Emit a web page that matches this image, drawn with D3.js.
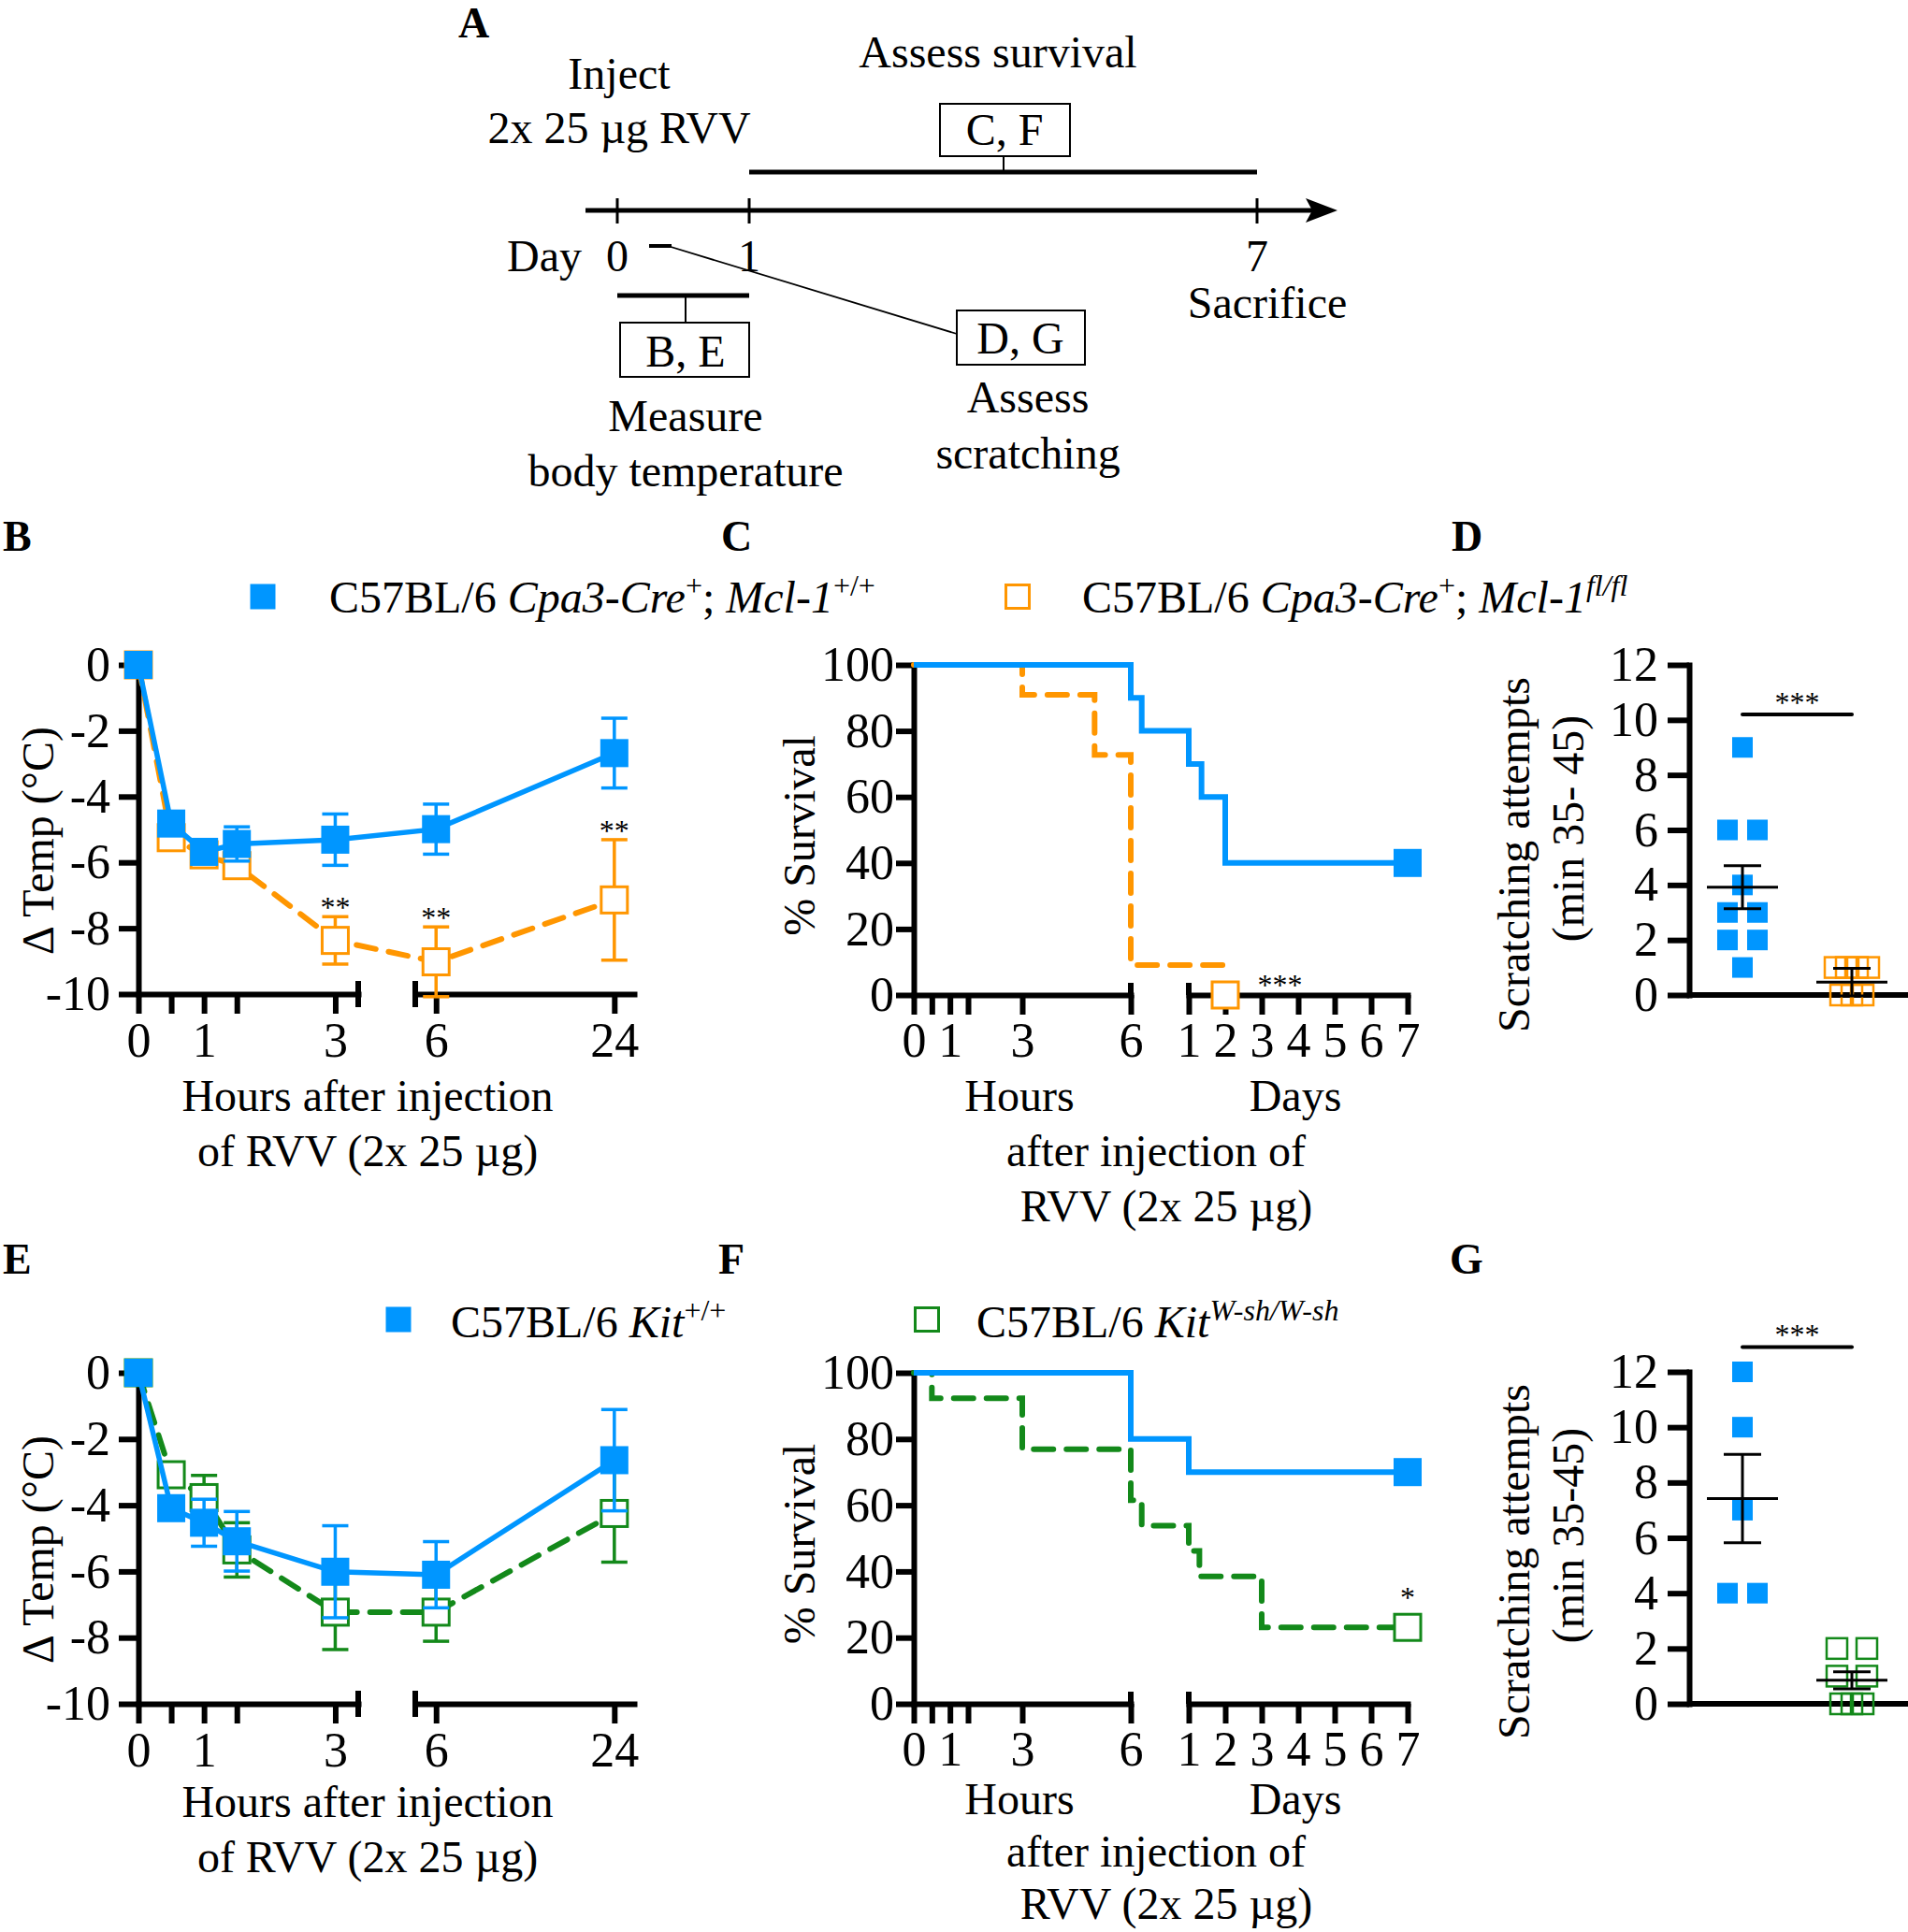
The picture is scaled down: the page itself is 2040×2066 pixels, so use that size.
<!DOCTYPE html>
<html>
<head>
<meta charset="utf-8">
<script src="https://cdnjs.cloudflare.com/ajax/libs/d3/7.8.5/d3.min.js"></script>
<style>
body { margin: 0; background: #fff; }
text { font-family: "Liberation Serif", "Times New Roman", serif; }
</style>
</head>
<body>
<svg id="fig"></svg>
<script>
// ---------- data ----------
// body temperature (B, E)
var tempHours = [0, 0.5, 1, 1.5, 3, 6, 24];
var mclWtTemp = [0, -4.82, -5.68, -5.44, -5.31, -4.99, -2.68];
var mclWtSem = [0, 0.2, 0.2, 0.52, 0.78, 0.76, 1.06];
var mclKoTemp = [0, -5.25, -5.77, -6.1, -8.37, -9.02, -7.14];
var mclKoSem = [0, 0.3, 0.3, 0.3, 0.72, 1.06, 1.83];
var mclTempStars = ["", "", "", "", "**", "**", "**"];
var kitWtTemp = [0, -4.09, -4.53, -5.09, -6.01, -6.1, -2.64];
var kitWtSem = [0, 0.3, 0.71, 0.9, 1.39, 1.0, 1.53];
var kitKoTemp = [0, -3.08, -3.77, -5.35, -7.23, -7.23, -4.25];
var kitKoSem = [0, 0.3, 0.67, 0.82, 1.13, 0.88, 1.47];
var tempTicks = [0, -2, -4, -6, -8, -10];
var hourTicksA = [0, 0.5, 1, 1.5, 3];
var hourTicksB = [6, 24];
var hourLabelled = [0, 1, 3, 6, 24];

// survival (C, F): hours after injection, % survival
var mclWtSurvT = [0, 6, 9.4, 24, 32.4, 48, 168];
var mclWtSurv = [100, 90, 80, 70, 60, 40, 40];
var mclKoSurvT = [0, 3, 5, 6, 48];
var mclKoSurv = [100, 90.9, 72.7, 9.1, 9.1];
var mclSurvEndT = [168, 48];
var mclSurvEnd = [40, 0];
var kitWtSurvT = [0, 6, 24, 168];
var kitWtSurv = [100, 80, 70, 70];
var kitKoSurvT = [0, 0.5, 3, 6, 9.4, 24, 31, 72, 168];
var kitKoSurv = [100, 92.3, 76.9, 61.5, 53.8, 46.2, 38.5, 23.1, 23.1];
var kitSurvEndT = [168, 168];
var kitSurvEnd = [70, 23.1];
var survTicks = [0, 20, 40, 60, 80, 100];
var survHourTicks = [0, 0.5, 1, 1.5, 3, 6];
var survHourLabelled = [0, 1, 3, 6];
var survDays = [1, 2, 3, 4, 5, 6, 7];

// scratching (D, G)
var mclWtScratch = [9, 6, 6, 4, 3, 3, 2, 2, 1];
var mclKoScratch = [1, 1, 1, 1, 0, 0, 0];
var mclScratchMean = [3.92, 0.47];
var mclScratchSem = [0.78, 0.5];
var kitWtScratch = [12, 10, 7, 4, 4];
var kitKoScratch = [2, 2, 1, 1, 0, 0, 0];
var kitScratchMean = [7.42, 0.85];
var kitScratchSem = [1.6, 0.31];
var scratchTicks = [0, 2, 4, 6, 8, 10, 12];

var blue = "#0096ff", orange = "#ff9600", green = "#13891a";
var tickFont = 52;

var svg = d3.select("#fig").attr("width", 2040).attr("height", 2066);

function styleAxis(g) {
	g.attr("font-family", null).attr("font-size", tickFont);
	g.select(".domain").attr("stroke-width", 6).attr("stroke-linecap", "square");
	g.selectAll(".tick line").attr("stroke-width", 6);
	g.selectAll(".tick text").attr("fill", "#000");
}

function plain(d) { return String(d); }

function txt(x, y, s, size, anchor) {
	return svg.append("text").attr("x", x).attr("y", y)
		.attr("font-size", size || 48)
		.attr("text-anchor", anchor || "middle")
		.text(s);
}

function rotText(x, y, s) {
	svg.append("text")
		.attr("transform", "translate(" + x + "," + y + ") rotate(-90)")
		.attr("text-anchor", "middle").attr("dy", "0.35em")
		.attr("font-size", 48).text(s);
}

function square(g, cx, cy, size, color, filled, fill) {
	g.append("rect")
		.attr("x", cx - size / 2).attr("y", cy - size / 2)
		.attr("width", size).attr("height", size)
		.attr("fill", filled ? color : (fill || "none"))
		.attr("stroke", filled ? "none" : color)
		.attr("stroke-width", filled ? 0 : 3);
}

// rich text with italic / superscript parts
function richText(x, y, parts) {
	var t = svg.append("text").attr("x", x).attr("y", y).attr("font-size", 48);
	var shift = 0;
	parts.forEach(function (p) {
		var want = p.sup ? -18 : 0;
		t.append("tspan")
			.attr("dy", want - shift)
			.attr("font-size", p.sup ? 32 : null)
			.attr("font-style", p.it ? "italic" : null)
			.text(p.t);
		shift = want;
	});
}

// ---------- panel letters ----------
[["A", 490, 40], ["B", 3, 589], ["C", 771, 589], ["D", 1552, 589],
 ["E", 3, 1362], ["F", 768, 1362], ["G", 1550, 1362]].forEach(function (d) {
	txt(d[1], d[2], d[0], 46, "start").attr("font-weight", "bold");
});

// ---------- A: timeline ----------
var dayX = d3.scaleLinear().domain([0, 1, 7]).range([660, 801, 1344]);
var tlY = 225;
svg.append("line").attr("x1", 626).attr("x2", 1405).attr("y1", tlY).attr("y2", tlY)
	.attr("stroke", "#000").attr("stroke-width", 5);
svg.append("path").attr("d", "M1430," + tlY + " L1396," + (tlY - 13) + " L1403," + tlY + " L1396," + (tlY + 13) + " Z");
[0, 1, 7].forEach(function (d) {
	svg.append("line").attr("x1", dayX(d)).attr("x2", dayX(d)).attr("y1", tlY - 13).attr("y2", tlY + 14)
		.attr("stroke", "#000").attr("stroke-width", 3);
	txt(dayX(d), 290, d);
});
txt(542, 290, "Day", 48, "start");
txt(662, 95, "Inject");
txt(662, 153, "2x 25 \u00b5g RVV");
txt(1067, 72, "Assess survival");
txt(1355, 340, "Sacrifice");

// survival bar + box
svg.append("line").attr("x1", dayX(1)).attr("x2", dayX(7)).attr("y1", 184).attr("y2", 184)
	.attr("stroke", "#000").attr("stroke-width", 5);
svg.append("line").attr("x1", 1073).attr("x2", 1073).attr("y1", 167).attr("y2", 184)
	.attr("stroke", "#000").attr("stroke-width", 2);
svg.append("rect").attr("x", 1005).attr("y", 111).attr("width", 139).attr("height", 56)
	.attr("fill", "none").attr("stroke", "#000").attr("stroke-width", 2);
txt(1074, 155, "C, F");

// temperature bar + box
svg.append("line").attr("x1", dayX(0)).attr("x2", dayX(1)).attr("y1", 316).attr("y2", 316)
	.attr("stroke", "#000").attr("stroke-width", 5);
svg.append("line").attr("x1", 733).attr("x2", 733).attr("y1", 316).attr("y2", 345)
	.attr("stroke", "#000").attr("stroke-width", 2);
svg.append("rect").attr("x", 663).attr("y", 345).attr("width", 138).attr("height", 58)
	.attr("fill", "none").attr("stroke", "#000").attr("stroke-width", 2);
txt(733, 392, "B, E");
txt(733, 461, "Measure");
txt(733, 520, "body temperature");

// scratching dash + pointer + box
svg.append("line").attr("x1", 694).attr("x2", 718).attr("y1", 263).attr("y2", 263)
	.attr("stroke", "#000").attr("stroke-width", 4);
svg.append("line").attr("x1", 714).attr("x2", 1023).attr("y1", 263).attr("y2", 357)
	.attr("stroke", "#000").attr("stroke-width", 1.8);
svg.append("rect").attr("x", 1023).attr("y", 332).attr("width", 137).attr("height", 58)
	.attr("fill", "none").attr("stroke", "#000").attr("stroke-width", 2);
txt(1091, 378, "D, G");
txt(1099, 441, "Assess");
txt(1099, 501, "scratching");

// ---------- legends ----------
square(svg, 281, 638, 27, blue, true);
richText(352, 655, [{ t: "C57BL/6 " }, { t: "Cpa3-Cre", it: 1 }, { t: "+", sup: 1 }, { t: "; " },
	{ t: "Mcl-1", it: 1 }, { t: "+/+", sup: 1 }]);
square(svg, 1088, 638, 25, orange, false, "#fff");
richText(1157, 655, [{ t: "C57BL/6 " }, { t: "Cpa3-Cre", it: 1 }, { t: "+", sup: 1 }, { t: "; " },
	{ t: "Mcl-1", it: 1 }, { t: "fl/fl", sup: 1, it: 1 }]);
square(svg, 426, 1411, 27, blue, true);
richText(482, 1430, [{ t: "C57BL/6 " }, { t: "Kit", it: 1 }, { t: "+/+", sup: 1 }]);
square(svg, 991, 1411, 25, green, false, "#fff");
richText(1044, 1430, [{ t: "C57BL/6 " }, { t: "Kit", it: 1 }, { t: "W-sh/W-sh", sup: 1, it: 1 }]);

// ---------- B, E: temperature ----------
function tempPanel(top, bottom, series, titleY) {
	var x = d3.scaleLinear().domain([0, 3.35, 3.9, 26]).range([148, 383, 444, 678]);
	var y = d3.scaleLinear().domain([-10, 0]).range([bottom, top]);
	var g = svg.append("g");

	var ya = g.append("g").attr("transform", "translate(148,0)")
		.call(d3.axisLeft(y).tickValues(tempTicks).tickFormat(plain)
			.tickSize(21).tickPadding(9).tickSizeOuter(0));
	styleAxis(ya);

	var fmt = function (d) { return hourLabelled.indexOf(d) >= 0 ? d : ""; };
	var seg1 = x.copy().domain([0, 3.35]).range([148, 383]);
	var seg2 = x.copy().domain([3.9, 26]).range([444, 678]);
	[[seg1, hourTicksA], [seg2, hourTicksB]].forEach(function (s) {
		var xa = g.append("g").attr("transform", "translate(0," + bottom + ")")
			.call(d3.axisBottom(s[0]).tickValues(s[1]).tickFormat(fmt).tickSize(21).tickPadding(9).tickSizeOuter(0));
		styleAxis(xa);
	});
	// break caps
	[3.35, 3.9].forEach(function (h) {
		g.append("line").attr("x1", x(h)).attr("x2", x(h)).attr("y1", bottom - 14).attr("y2", bottom + 14)
			.attr("stroke", "#000").attr("stroke-width", 6);
	});

	series.forEach(function (s) {
		var pts = s.mean.map(function (m, i) { return { t: tempHours[i], m: m, e: s.sem[i] }; });
		var sg = g.append("g");
		// error bars
		pts.filter(function (d) { return d.e > 0; }).forEach(function (d) {
			var cx = x(d.t), y1 = y(d.m + d.e), y2 = y(d.m - d.e);
			sg.append("line").attr("x1", cx).attr("x2", cx).attr("y1", y1).attr("y2", y2)
				.attr("stroke", s.color).attr("stroke-width", 3.5);
			[y1, y2].forEach(function (yy) {
				sg.append("line").attr("x1", cx - 14).attr("x2", cx + 14).attr("y1", yy).attr("y2", yy)
					.attr("stroke", s.color).attr("stroke-width", 3.5);
			});
		});
		sg.append("path").datum(pts)
			.attr("d", d3.line().x(function (d) { return x(d.t); }).y(function (d) { return y(d.m); }))
			.attr("fill", "none").attr("stroke", s.color)
			.attr("stroke-width", s.dash ? 6 : 5.5)
			.attr("stroke-dasharray", s.dash ? "21,14" : null)
			.attr("stroke-linecap", s.dash ? "round" : "butt");
		pts.forEach(function (d) {
			if (s.filled) square(sg, x(d.t), y(d.m), 30, s.color, true);
			else square(sg, x(d.t), y(d.m), 28, s.color, false, "#fff");
		});
		if (s.stars) {
			pts.forEach(function (d, i) {
				if (s.stars[i]) sg.append("text").attr("x", x(d.t)).attr("y", y(d.m + d.e) + 1)
					.attr("text-anchor", "middle").attr("font-size", 32).text(s.stars[i]);
			});
		}
	});

	rotText(40, (top + bottom) / 2 + 12, "\u0394 Temp (\u00b0C)");
	txt(393, titleY, "Hours after injection");
	txt(393, titleY + 59, "of RVV (2x 25 \u00b5g)");
}

tempPanel(711, 1063, [
	{ mean: mclKoTemp, sem: mclKoSem, color: orange, filled: false, dash: true, stars: mclTempStars },
	{ mean: mclWtTemp, sem: mclWtSem, color: blue, filled: true, dash: false }
], 1188);
tempPanel(1468, 1822, [
	{ mean: kitKoTemp, sem: kitKoSem, color: green, filled: false, dash: true },
	{ mean: kitWtTemp, sem: kitWtSem, color: blue, filled: true, dash: false }
], 1943);

// ---------- C, F: survival ----------
function survPanel(top, bottom, series, titleY, lineGap, star) {
	var x = d3.scaleLinear().domain([0, 6, 24, 168]).range([977, 1209, 1271, 1505]);
	var y = d3.scaleLinear().domain([0, 100]).range([bottom, top]);
	var g = svg.append("g");

	var ya = g.append("g").attr("transform", "translate(977,0)")
		.call(d3.axisLeft(y).tickValues(survTicks).tickFormat(plain)
			.tickSize(19).tickPadding(2).tickSizeOuter(0));
	styleAxis(ya);

	var segH = x.copy().domain([0, 6]).range([977, 1209]);
	var segD = x.copy().domain([24, 168]).range([1271, 1505]);
	var xa1 = g.append("g").attr("transform", "translate(0," + bottom + ")")
		.call(d3.axisBottom(segH).tickValues(survHourTicks)
			.tickFormat(function (d) { return survHourLabelled.indexOf(d) >= 0 ? d : ""; })
			.tickSize(21).tickPadding(8).tickSizeOuter(0));
	styleAxis(xa1);
	var xa2 = g.append("g").attr("transform", "translate(0," + bottom + ")")
		.call(d3.axisBottom(segD).tickValues(survDays.map(function (d) { return d * 24; }))
			.tickFormat(function (d) { return d / 24; })
			.tickSize(21).tickPadding(8).tickSizeOuter(0));
	styleAxis(xa2);
	[6, 24].forEach(function (h) {
		g.append("line").attr("x1", x(h)).attr("x2", x(h)).attr("y1", bottom - 13).attr("y2", bottom)
			.attr("stroke", "#000").attr("stroke-width", 6);
	});

	series.forEach(function (s) {
		var pts = s.t.map(function (t, i) { return [t, s.v[i]]; });
		g.append("path").datum(pts)
			.attr("d", d3.line().curve(d3.curveStepAfter)
				.x(function (d) { return x(d[0]); }).y(function (d) { return y(d[1]); }))
			.attr("fill", "none").attr("stroke", s.color)
			.attr("stroke-width", 6)
			.attr("stroke-dasharray", s.dash ? "21,14" : null)
			.attr("stroke-linecap", s.dash ? "round" : "butt");
	});
	series.forEach(function (s) {
		if (s.filled) square(g, x(s.endT), y(s.end), 30, s.color, true);
		else square(g, x(s.endT), y(s.end), 28, s.color, false, "#fff");
	});
	g.append("text").attr("x", x(star.t)).attr("y", y(star.v)).attr("text-anchor", "middle")
		.attr("font-size", 32).text(star.s);

	rotText(854, (top + bottom) / 2 + 6, "% Survival");
	txt(1090, titleY, "Hours");
	txt(1385, titleY, "Days");
	txt(1236, titleY + lineGap, "after injection of");
	txt(1247, titleY + 2 * lineGap, "RVV (2x 25 \u00b5g)");
}

survPanel(711, 1064, [
	{ t: mclKoSurvT, v: mclKoSurv, color: orange, dash: true, filled: false, endT: mclSurvEndT[1], end: mclSurvEnd[1] },
	{ t: mclWtSurvT, v: mclWtSurv, color: blue, dash: false, filled: true, endT: mclSurvEndT[0], end: mclSurvEnd[0] }
], 1188, 59, { t: 84, v: 0, s: "***" });
survPanel(1468, 1822, [
	{ t: kitKoSurvT, v: kitKoSurv, color: green, dash: true, filled: false, endT: kitSurvEndT[1], end: kitSurvEnd[1] },
	{ t: kitWtSurvT, v: kitWtSurv, color: blue, dash: false, filled: true, endT: kitSurvEndT[0], end: kitSurvEnd[0] }
], 1940, 56, { t: 168, v: 29, s: "*" });

// ---------- D, G: scratching ----------
function spread(values) {
	var counts = {}, seen = {};
	values.forEach(function (v) { counts[v] = (counts[v] || 0) + 1; });
	return values.map(function (v) {
		var n = counts[v];
		seen[v] = seen[v] === undefined ? 0 : seen[v] + 1;
		var step = n > 2 ? 12 : 32;
		return (seen[v] - (n - 1) / 2) * step;
	});
}

function scratchPanel(top, bottom, groups, means, sems, sigV, titleC, line2) {
	var y = d3.scaleLinear().domain([0, 12]).range([bottom, top]);
	var gx = d3.scaleLinear().domain([0, 1]).range([1863, 1980]);
	var g = svg.append("g");

	var ya = g.append("g").attr("transform", "translate(1806,0)")
		.call(d3.axisLeft(y).tickValues(scratchTicks).tickFormat(plain)
			.tickSize(23).tickPadding(10).tickSizeOuter(0));
	styleAxis(ya);
	g.append("line").attr("x1", 1806).attr("x2", 2040).attr("y1", bottom).attr("y2", bottom)
		.attr("stroke", "#000").attr("stroke-width", 6);

	groups.forEach(function (grp, gi) {
		var off = spread(grp.v);
		grp.v.forEach(function (v, i) {
			if (grp.filled) square(g, gx(gi) + off[i], y(v), 22, grp.color, true);
			else g.append("rect").attr("x", gx(gi) + off[i] - 11).attr("y", y(v) - 11)
				.attr("width", 22).attr("height", 22).attr("fill", "none")
				.attr("stroke", grp.color).attr("stroke-width", 2.5);
		});
	});
	groups.forEach(function (grp, gi) {
		var cx = gx(gi), m = means[gi], e = sems[gi];
		g.append("line").attr("x1", cx - 38).attr("x2", cx + 38).attr("y1", y(m)).attr("y2", y(m))
			.attr("stroke", "#000").attr("stroke-width", 3);
		g.append("line").attr("x1", cx).attr("x2", cx).attr("y1", y(m + e)).attr("y2", y(m - e))
			.attr("stroke", "#000").attr("stroke-width", 3);
		[m + e, m - e].forEach(function (v) {
			g.append("line").attr("x1", cx - 20).attr("x2", cx + 20).attr("y1", y(v)).attr("y2", y(v))
				.attr("stroke", "#000").attr("stroke-width", 3);
		});
	});
	// significance bar
	g.append("line").attr("x1", gx(0)).attr("x2", gx(1)).attr("y1", y(sigV)).attr("y2", y(sigV))
		.attr("stroke", "#000").attr("stroke-width", 4).attr("stroke-linecap", "round");
	g.append("text").attr("x", (gx(0) + gx(1)) / 2).attr("y", y(sigV) - 2)
		.attr("text-anchor", "middle").attr("font-size", 32).text("***");

	rotText(1618, titleC + 4, "Scratching attempts");
	rotText(1676, titleC - 24, line2);
}

scratchPanel(711, 1064, [
	{ v: mclWtScratch, color: blue, filled: true },
	{ v: mclKoScratch, color: orange, filled: false }
], mclScratchMean, mclScratchSem, 10.2, 910, "(min 35- 45)");
scratchPanel(1467, 1822, [
	{ v: kitWtScratch, color: blue, filled: true },
	{ v: kitKoScratch, color: green, filled: false }
], kitScratchMean, kitScratchSem, 12.9, 1666, "(min 35-45)");
</script>
</body>
</html>
